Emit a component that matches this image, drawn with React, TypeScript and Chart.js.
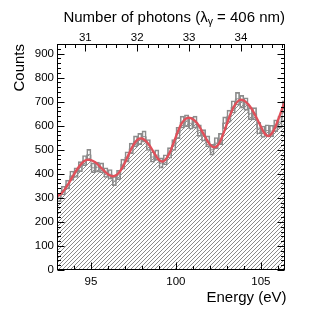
import React, { useEffect, useRef } from "react";
import { Chart, registerables } from "chart.js";
Chart.register(...registerables);

// photon energy for 406 nm (eV)
const PHOTON_EV = 1239.84 / 406;
const X_MIN = 93.0;
const X_MAX = 106.42;
const Y_MAX = 940;
const BIN_WIDTH = 0.25;

const binCenters = [
  93.125, 93.375, 93.625, 93.875, 94.125, 94.375, 94.625, 94.875, 95.125, 95.375,
  95.625, 95.875, 96.125, 96.375, 96.625, 96.875, 97.125, 97.375, 97.625, 97.875,
  98.125, 98.375, 98.625, 98.875, 99.125, 99.375, 99.625, 99.875, 100.125, 100.375,
  100.625, 100.875, 101.125, 101.375, 101.625, 101.875, 102.125, 102.375, 102.625, 102.875,
  103.125, 103.375, 103.625, 103.875, 104.125, 104.375, 104.625, 104.875, 105.125, 105.375,
  105.625, 105.875, 106.125, 106.375,
];
const binCounts = [
  300, 330, 355, 392, 405, 430, 455, 480, 425, 428,
  425, 405, 398, 370, 395, 440, 470, 505, 535, 545,
  555, 520, 470, 478, 445, 458, 487, 520, 570, 615,
  620, 610, 615, 580, 560, 535, 500, 528, 545, 612,
  640, 678, 712, 700, 690, 650, 650, 590, 575, 580,
  578, 600, 615, 678,
];

const fitEnergy = [
  93.0, 93.25, 93.5, 93.75, 94.0, 94.25, 94.5, 94.75, 95.0, 95.25,
  95.5, 95.75, 96.0, 96.25, 96.5, 96.75, 97.0, 97.25, 97.5, 97.75,
  98.0, 98.25, 98.5, 98.75, 99.0, 99.25, 99.5, 99.75, 100.0, 100.25,
  100.5, 100.75, 101.0, 101.25, 101.5, 101.75, 102.0, 102.25, 102.5, 102.75,
  103.0, 103.25, 103.5, 103.75, 104.0, 104.25, 104.5, 104.75, 105.0, 105.25,
  105.5, 105.75, 106.0, 106.25, 106.5,
];
const fitCounts = [
  305, 318, 340, 368, 398, 425, 447, 458, 457, 448,
  432, 414, 398, 390, 395, 415, 447, 485, 520, 543,
  547, 535, 512, 483, 458, 452, 470, 508, 555, 598,
  625, 633, 627, 610, 582, 550, 522, 510, 522, 560,
  608, 655, 690, 707, 705, 690, 665, 632, 597, 565,
  558, 580, 622, 670, 715,
];

const energyTicks = [95, 100, 105];
const photonTicks = [31, 32, 33, 34];
const countTicks = [0, 100, 200, 300, 400, 500, 600, 700, 800, 900];

const FONT = "'Liberation Sans', Arial, Helvetica, sans-serif";

function makeHatch(ctx: CanvasRenderingContext2D) {
  const c = document.createElement("canvas");
  c.width = 4;
  c.height = 4;
  const g = c.getContext("2d")!;
  g.fillStyle = "#ffffff";
  g.fillRect(0, 0, 4, 4);
  g.fillStyle = "#8a8a8a";
  for (let x = 0; x < 4; x++) g.fillRect(x, 3 - x, 1, 1);
  return ctx.createPattern(c, "repeat")!;
}

const framePlugin = {
  id: "framePlugin",
  afterDraw(chart: any) {
    const { ctx, chartArea: a, scales } = chart;
    ctx.save();
    ctx.strokeStyle = "#000";
    ctx.lineWidth = 1;
    const L = Math.round(a.left) + 0.5;
    const R = Math.round(a.right) - 0.5;
    const T = Math.round(a.top) + 0.5;
    const B = Math.round(a.bottom) - 0.5;
    ctx.strokeRect(L, T, R - L, B - T);
    const line = (x1: number, y1: number, x2: number, y2: number) => {
      ctx.beginPath();
      ctx.moveTo(x1, y1);
      ctx.lineTo(x2, y2);
      ctx.stroke();
    };
    const ys = scales.y;
    for (let v = 0; v <= Y_MAX; v += 20) {
      const p = Math.round(ys.getPixelForValue(v)) + 0.5;
      const len = v % 100 === 0 ? 7 : 3.5;
      line(L, p, L + len, p);
      line(R, p, R - len, p);
    }
    const xs = scales.x;
    for (let v = 93; v <= 106; v += 1) {
      const p = Math.round(xs.getPixelForValue(v)) + 0.5;
      const len = v % 5 === 0 ? 7 : 3.5;
      line(p, B, p, B - len);
    }
    const x2 = scales.x2;
    for (let k = 152; k <= 174; k++) {
      const v = k / 5;
      if (v < x2.min || v > x2.max) continue;
      const p = Math.round(x2.getPixelForValue(v)) + 0.5;
      const len = k % 5 === 0 ? 7 : 3.5;
      line(p, T, p, T + len);
    }
    ctx.fillStyle = "#000";
    ctx.font = `15px ${FONT}`;
    ctx.textAlign = "right";
    ctx.textBaseline = "alphabetic";
    ctx.fillText("Energy (eV)", a.right + 1.5, 302);
    ctx.save();
    ctx.translate(23.5, a.top);
    ctx.rotate(-Math.PI / 2);
    ctx.textAlign = "right";
    ctx.fillText("Counts", 0, 0);
    ctx.restore();
    const p1 = "Number of photons (\u03bb";
    const sub = "\u03b3";
    const p2 = " = 406 nm)";
    ctx.textAlign = "left";
    ctx.font = `15px ${FONT}`;
    const w1 = ctx.measureText(p1).width;
    const w3 = ctx.measureText(p2).width;
    ctx.font = `10.5px ${FONT}`;
    const w2 = ctx.measureText(sub).width;
    const x0 = a.right - (w1 + w2 + w3);
    const base = 21.5;
    ctx.font = `15px ${FONT}`;
    ctx.fillText(p1, x0, base);
    ctx.font = `10.5px ${FONT}`;
    ctx.fillText(sub, x0 + w1, base + 3.5);
    ctx.font = `15px ${FONT}`;
    ctx.fillText(p2, x0 + w1 + w2, base);
    ctx.restore();
  },
};

export default function App() {
  const ref = useRef<HTMLCanvasElement | null>(null);
  useEffect(() => {
    const canvas = ref.current!;
    const ctx = canvas.getContext("2d")!;
    const hatch = makeHatch(ctx);
    const last = binCenters.length - 1;
    const histPoints = binCenters.map((c, i) => ({ x: c - BIN_WIDTH / 2, y: binCounts[i] }));
    histPoints.push({ x: binCenters[last] + BIN_WIDTH / 2, y: binCounts[last] });
    const errBoxes = binCenters.map((c, i) => {
      const e = Math.sqrt(binCounts[i]);
      return { x: c, y: [binCounts[i] - e, binCounts[i] + e] };
    });
    const fitPoints = fitEnergy.map((e, i) => ({ x: e, y: fitCounts[i] }));
    const tickFont = { family: FONT, size: 11.5 };
    const chart = new Chart(ctx, {
      type: "line",
      data: {
        datasets: [
          {
            type: "line",
            data: fitPoints,
            borderColor: "#e0505a",
            borderWidth: 2.4,
            pointRadius: 0,
            tension: 0.4,
            fill: false,
            order: 0,
          } as any,
          {
            type: "bar",
            data: errBoxes as any,
            backgroundColor: "rgba(0,0,0,0)",
            borderColor: "#8c8c8c",
            borderWidth: 1,
            borderSkipped: false,
            barPercentage: 1,
            categoryPercentage: 1,
            order: 1,
          } as any,
          {
            type: "line",
            data: histPoints,
            stepped: "before",
            borderColor: "#9a9a9a",
            borderWidth: 1,
            pointRadius: 0,
            backgroundColor: hatch,
            fill: "origin",
            order: 2,
          } as any,
        ],
      },
      options: {
        animation: false,
        responsive: true,
        maintainAspectRatio: false,
        layout: { padding: { left: 0, right: 47, top: 0, bottom: 0 } },
        plugins: { legend: { display: false }, tooltip: { enabled: false } },
        scales: {
          x: {
            type: "linear",
            position: "bottom",
            min: X_MIN,
            max: X_MAX,
            offset: false,
            grid: { display: false, drawTicks: false },
            border: { display: false },
            ticks: { font: tickFont, color: "#000", padding: 5, maxRotation: 0 },
            afterBuildTicks: (s: any) => {
              s.ticks = energyTicks.map((v) => ({ value: v }));
            },
            afterFit: (s: any) => {
              s.height = 49;
            },
          },
          x2: {
            type: "linear",
            position: "top",
            min: X_MIN / PHOTON_EV,
            max: X_MAX / PHOTON_EV,
            offset: false,
            grid: { display: false, drawTicks: false },
            border: { display: false },
            ticks: { font: tickFont, color: "#000", padding: -1, maxRotation: 0 },
            afterBuildTicks: (s: any) => {
              s.ticks = photonTicks.map((v) => ({ value: v }));
            },
            afterFit: (s: any) => {
              s.height = 44;
            },
          },
          y: {
            type: "linear",
            min: 0,
            max: Y_MAX,
            grid: { display: false, drawTicks: false },
            border: { display: false },
            ticks: { font: tickFont, color: "#000", padding: 3 },
            afterBuildTicks: (s: any) => {
              s.ticks = countTicks.map((v) => ({ value: v }));
            },
            afterFit: (s: any) => {
              s.width = 57;
            },
          },
        },
      } as any,
      plugins: [framePlugin],
    });
    return () => chart.destroy();
  }, []);
  return (
    <div style={{ position: "fixed", left: 0, top: 0, width: 332, height: 319, background: "#fff" }}>
      <canvas ref={ref} />
    </div>
  );
}
